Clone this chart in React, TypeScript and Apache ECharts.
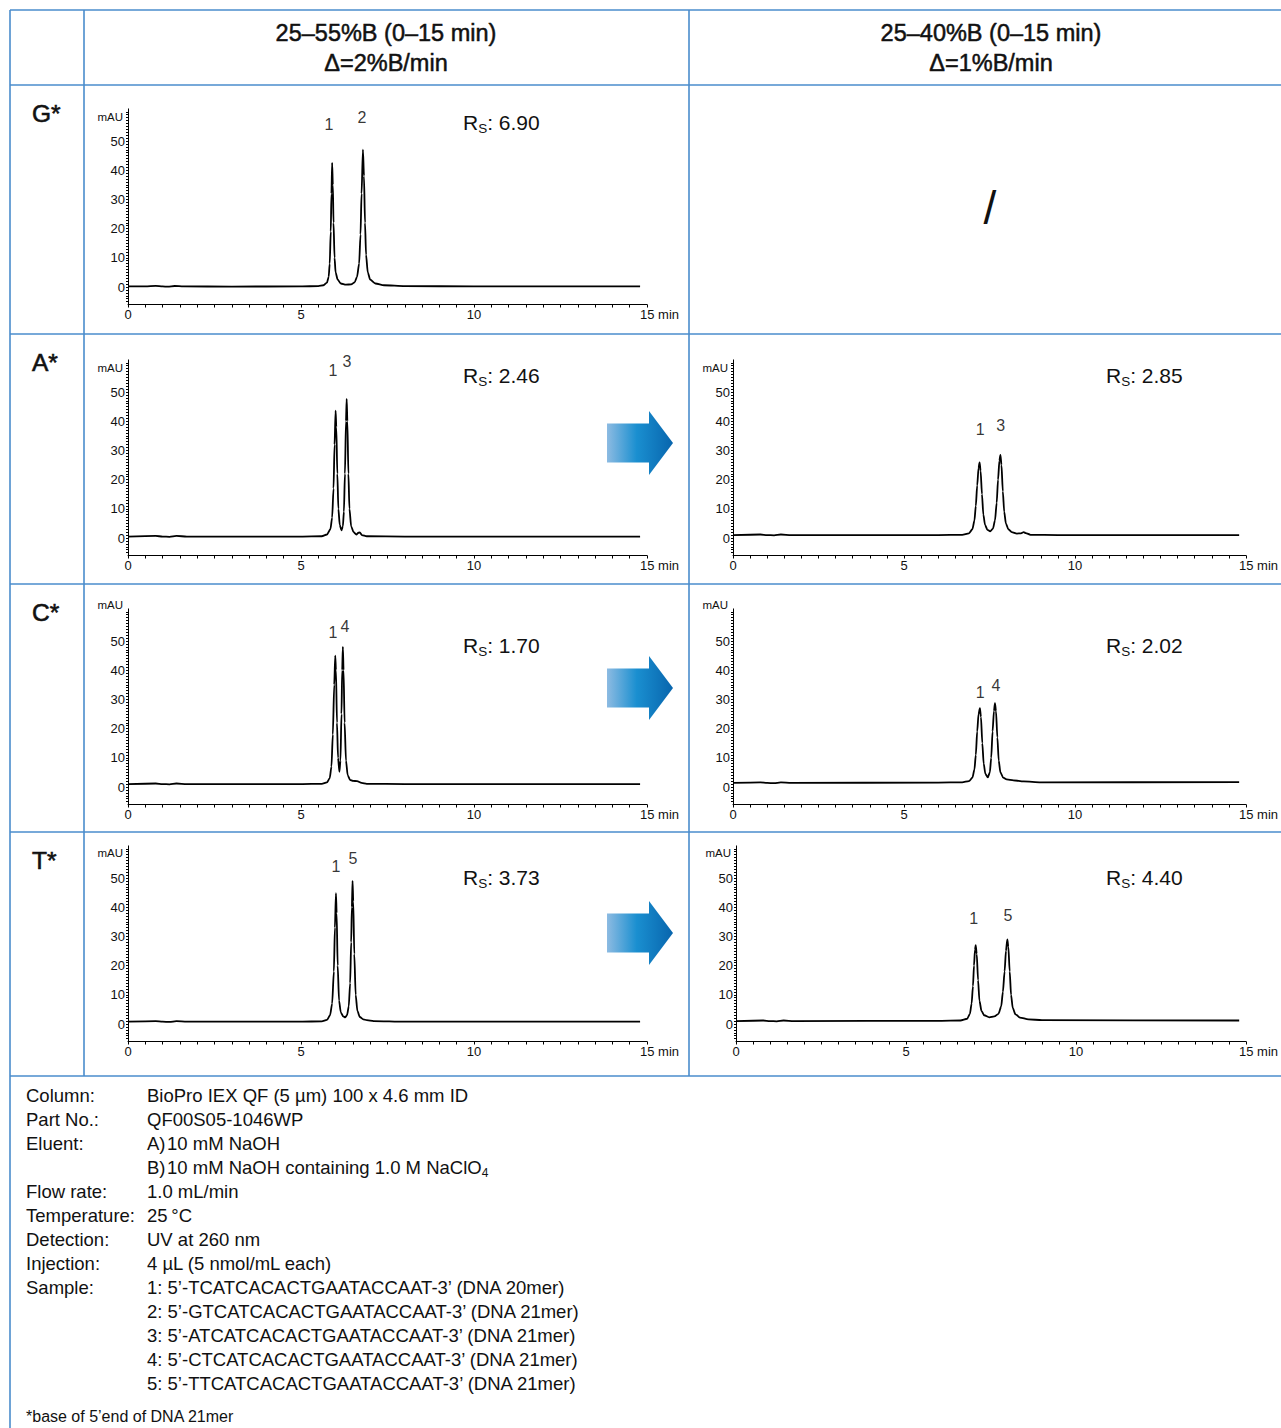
import React, { useEffect, useRef } from 'react';
import * as echarts from 'echarts';

const FONT = '"Liberation Sans", Arial, Helvetica, sans-serif';
const INK = '#111';
const BLUE = '#4a8ccc';

// ---------- data ----------
const columnHeaders = [
  ['25–55%B (0–15 min)', 'Δ=2%B/min'],
  ['25–40%B (0–15 min)', 'Δ=1%B/min'],
];
const rowLabels = ['G*', 'A*', 'C*', 'T*'];
const xTickLabels = [0, 5, 10, 15];
const yTickLabels = [0, 10, 20, 30, 40, 50];

// time (min), absorbance (mAU)
const traceGLeft = [
  [0, 0.2], [0.5, 0.2], [0.8, 0.4], [1.0, 0.2], [1.15, 0.1], [1.35, 0.35], [1.6, 0.2], [3, 0.15], [5.0, 0.2],
  [5.5, 0.3], [5.65, 0.6], [5.75, 1.5], [5.8, 3.5], [5.83, 8], [5.86, 19], [5.88, 32], [5.9, 42.5], [5.92, 35],
  [5.94, 22], [5.97, 10], [6.0, 5], [6.06, 2.5], [6.15, 1.2], [6.3, 0.8], [6.45, 0.9], [6.55, 1.6], [6.62, 3.5],
  [6.68, 8], [6.72, 18], [6.75, 32], [6.79, 47], [6.82, 38], [6.85, 22], [6.88, 11], [6.93, 5], [7.0, 2.5],
  [7.15, 1.2], [7.4, 0.6], [8, 0.3], [10, 0.2], [12, 0.2], [14.8, 0.2],
];
const traceALeft = [
  [0, 0.5], [0.8, 0.7], [1.0, 0.5], [1.2, 0.4], [1.4, 0.7], [1.7, 0.5], [5.0, 0.5], [5.6, 0.6], [5.75, 1.2],
  [5.85, 3], [5.9, 7], [5.94, 17], [5.97, 32], [6.0, 43.6], [6.02, 38], [6.05, 22], [6.08, 10], [6.12, 4.5],
  [6.17, 2.6], [6.21, 4], [6.24, 9], [6.27, 22], [6.3, 40], [6.32, 47.6], [6.34, 40], [6.37, 22], [6.4, 10],
  [6.45, 4], [6.52, 2], [6.6, 1.2], [6.66, 1.8], [6.7, 1.9], [6.76, 1.0], [6.9, 0.6], [8, 0.5], [14.8, 0.5],
];
const traceARight = [
  [0, 1.0], [0.8, 1.2], [1.0, 1.0], [1.2, 0.9], [1.4, 1.2], [1.7, 1.0], [6.0, 1.0], [6.7, 1.1], [6.9, 1.6],
  [7.0, 3], [7.06, 6], [7.1, 11], [7.14, 18], [7.18, 24], [7.21, 25.9], [7.24, 23], [7.28, 15], [7.32, 8],
  [7.37, 4.5], [7.44, 2.8], [7.52, 2.3], [7.6, 3.2], [7.66, 6], [7.71, 12], [7.75, 20], [7.79, 26.5], [7.82, 28.5],
  [7.85, 25], [7.89, 16], [7.93, 9], [7.98, 5], [8.05, 3], [8.15, 2], [8.3, 1.5], [8.42, 1.6], [8.5, 2.0],
  [8.56, 1.7], [8.7, 1.1], [9.5, 1.0], [14.8, 1.0],
];
const traceCLeft = [
  [0, 1.0], [0.8, 1.2], [1.0, 1.0], [1.2, 0.9], [1.4, 1.2], [1.7, 1.0], [5.0, 1.0], [5.6, 1.1], [5.75, 1.6],
  [5.83, 3], [5.88, 7], [5.92, 18], [5.96, 35], [5.99, 45], [6.01, 40], [6.04, 22], [6.07, 10], [6.11, 5.2],
  [6.14, 9], [6.17, 25], [6.19, 40], [6.21, 48], [6.23, 40], [6.26, 22], [6.3, 9], [6.35, 4], [6.42, 2.4],
  [6.5, 2.1], [6.62, 2.0], [6.75, 1.4], [6.9, 1.1], [8, 1.0], [14.8, 1.0],
];
const traceCRight = [
  [0, 1.4], [0.8, 1.6], [1.0, 1.4], [1.2, 1.3], [1.4, 1.6], [1.7, 1.4], [6.0, 1.5], [6.7, 1.6], [6.9, 2.0],
  [7.0, 3.2], [7.06, 6], [7.1, 11], [7.14, 19], [7.18, 25], [7.22, 27], [7.25, 24], [7.29, 15], [7.33, 8],
  [7.38, 4.5], [7.45, 3.3], [7.51, 5], [7.55, 10], [7.59, 19], [7.63, 26], [7.66, 28.7], [7.69, 26], [7.73, 17],
  [7.77, 9], [7.82, 5], [7.9, 3.2], [8.0, 2.6], [8.2, 2.3], [8.5, 1.9], [9, 1.6], [14.8, 1.7],
];
const traceTLeft = [
  [0, 0.8], [0.8, 1.0], [1.0, 0.8], [1.2, 0.7], [1.4, 1.0], [1.7, 0.8], [5.0, 0.8], [5.6, 0.9], [5.75, 1.4],
  [5.84, 3], [5.9, 7], [5.95, 18], [5.98, 33], [6.01, 44.8], [6.03, 38], [6.06, 20], [6.1, 8], [6.15, 4],
  [6.22, 2.6], [6.28, 2.3], [6.33, 3], [6.38, 6], [6.42, 14], [6.45, 28], [6.47, 40], [6.49, 49], [6.51, 42],
  [6.54, 24], [6.58, 10], [6.63, 4.5], [6.7, 2.4], [6.8, 1.6], [6.9, 1.3], [7.1, 1.0], [8, 0.8], [14.8, 0.8],
];
const traceTRight = [
  [0, 1.0], [0.8, 1.2], [1.0, 1.0], [1.2, 0.9], [1.4, 1.2], [1.7, 1.0], [6.0, 1.1], [6.6, 1.2], [6.8, 1.8],
  [6.88, 3.5], [6.93, 7], [6.97, 13], [7.0, 20], [7.03, 25.5], [7.05, 27], [7.08, 24], [7.12, 15], [7.16, 8],
  [7.22, 4.5], [7.3, 3], [7.45, 2.3], [7.6, 2.6], [7.72, 3.5], [7.8, 6], [7.85, 11], [7.9, 18], [7.94, 25],
  [7.98, 29], [8.01, 26.5], [8.05, 18], [8.09, 10], [8.14, 5.5], [8.22, 3.3], [8.35, 2.2], [8.6, 1.6], [9, 1.3],
  [14.8, 1.2],
];

// peak number labels: [time, mAU, label]
const peaksGLeft = [[5.81, 55.5, '1'], [6.76, 58.2, '2']];
const peaksALeft = [[5.92, 57.5, '1'], [6.33, 60.6, '3']];
const peaksARight = [[7.23, 37, '1'], [7.83, 38.4, '3']];
const peaksCLeft = [[5.92, 53, '1'], [6.27, 54.8, '4']];
const peaksCRight = [[7.23, 32.5, '1'], [7.69, 34.6, '4']];
const peaksTLeft = [[6.01, 53.8, '1'], [6.5, 56.8, '5']];
const peaksTRight = [[6.99, 36.3, '1'], [8.0, 37, '5']];

const rsValues = ['6.90', '2.46', '2.85', '1.70', '2.02', '3.73', '4.40'];

const footerLabels = ['Column:', 'Part No.:', 'Eluent:', '', 'Flow rate:', 'Temperature:', 'Detection:', 'Injection:', 'Sample:', '', '', '', ''];
const footerValues = [
  'BioPro IEX QF (5 µm) 100 x 4.6 mm ID',
  'QF00S05-1046WP',
  'A)\u200A10 mM NaOH',
  'B)\u200A10 mM NaOH containing 1.0 M NaClO{s|4}',
  '1.0 mL/min',
  '25\u2009°C',
  'UV at 260 nm',
  '4 µL (5 nmol/mL each)',
  '1: 5’-TCATCACACTGAATACCAAT-3’ (DNA 20mer)',
  '2: 5’-GTCATCACACTGAATACCAAT-3’ (DNA 21mer)',
  '3: 5’-ATCATCACACTGAATACCAAT-3’ (DNA 21mer)',
  '4: 5’-CTCATCACACTGAATACCAAT-3’ (DNA 21mer)',
  '5: 5’-TTCATCACACTGAATACCAAT-3’ (DNA 21mer)',
];
const footnote = '*base of 5’end of DNA 21mer';

// ---------- layout ----------
const PX_PER_MAU = 2.92;
const Y_MIN = -6;
const Y_MAX = 61;
const PLOT_H = (Y_MAX - Y_MIN) * PX_PER_MAU;

const panels = [
  { trace: traceGLeft, peaks: peaksGLeft, left: 128, width: 519, zero: 287, rsX: 463, rsY: 122, mauGap: -8 },
  { trace: traceALeft, peaks: peaksALeft, left: 128, width: 519, zero: 538, rsX: 463, rsY: 375, mauGap: -8 },
  { trace: traceARight, peaks: peaksARight, left: 733, width: 520, zero: 538, rsX: 1106, rsY: 375, mauGap: -8 },
  { trace: traceCLeft, peaks: peaksCLeft, left: 128, width: 519, zero: 787, rsX: 463, rsY: 645, mauGap: 4 },
  { trace: traceCRight, peaks: peaksCRight, left: 733, width: 520, zero: 787, rsX: 1106, rsY: 645, mauGap: 4 },
  { trace: traceTLeft, peaks: peaksTLeft, left: 128, width: 519, zero: 1024, rsX: 463, rsY: 877, mauGap: -7 },
  { trace: traceTRight, peaks: peaksTRight, left: 736, width: 520, zero: 1024, rsX: 1106, rsY: 877, mauGap: -7 },
];

const xMinorTicks = Array.from({ length: 31 }, (_, i) => i * 0.5);
const yMinorTicks = Array.from({ length: 66 }, (_, i) => i - 5);

function text(t: string, x: number, y: number, size: number, extra: any = {}) {
  return {
    type: 'text',
    x,
    y,
    silent: true,
    style: {
      text: t,
      fontSize: size,
      fontFamily: FONT,
      fill: INK,
      align: 'left',
      verticalAlign: 'middle',
      textAlign: 'left',
      textVerticalAlign: 'middle',
      ...extra,
    },
  };
}

function line(x1: number, y1: number, x2: number, y2: number) {
  return {
    type: 'line',
    silent: true,
    shape: { x1, y1, x2, y2 },
    style: { stroke: BLUE, lineWidth: 1.6 },
  };
}

function arrow(cy: number) {
  return {
    type: 'polygon',
    silent: true,
    shape: {
      points: [
        [607, cy - 19.5], [649, cy - 19.5], [649, cy - 32], [673, cy], [649, cy + 32], [649, cy + 19.5], [607, cy + 19.5],
      ],
    },
    style: {
      fill: {
        type: 'linear', x: 0, y: 0, x2: 1, y2: 0,
        colorStops: [
          { offset: 0, color: '#8dbbe2' },
          { offset: 0.45, color: '#1a8fd0' },
          { offset: 1, color: '#0865ad' },
        ],
      },
    },
  };
}

function buildOption() {
  const grids: any[] = [];
  const xAxes: any[] = [];
  const yAxes: any[] = [];
  const series: any[] = [];
  const graphics: any[] = [];

  panels.forEach((p, i) => {
    const top = p.zero - Y_MAX * PX_PER_MAU;
    grids.push({ left: p.left, top, width: p.width, height: PLOT_H });
    xAxes.push({
      gridIndex: i,
      type: 'value',
      min: 0,
      max: 15,
      axisLine: { show: true, onZero: false, lineStyle: { color: '#000', width: 1 } },
      axisTick: { show: true, customValues: xMinorTicks, length: 3, lineStyle: { color: '#000', width: 1 } },
      axisLabel: {
        customValues: xTickLabels,
        margin: 3,
        fontSize: 13,
        fontFamily: FONT,
        color: INK,
        formatter: (v: number) => (v === 15 ? '{pad|}15 min' : String(v)),
        rich: { pad: { width: 25 } },
      },
      splitLine: { show: false },
    });
    yAxes.push({
      gridIndex: i,
      type: 'value',
      min: Y_MIN,
      max: Y_MAX,
      name: 'mAU',
      nameLocation: 'end',
      nameGap: p.mauGap,
      nameTextStyle: { fontSize: 11.5, fontFamily: FONT, color: INK, align: 'right', verticalAlign: 'middle', padding: [0, 5, 0, 0] },
      axisLine: { show: true, onZero: false, lineStyle: { color: '#000', width: 1 } },
      axisTick: { show: true, customValues: yMinorTicks, length: 2, lineStyle: { color: '#000', width: 1 } },
      axisLabel: { customValues: yTickLabels, margin: 3, fontSize: 13, fontFamily: FONT, color: INK },
      splitLine: { show: false },
    });
    series.push({
      type: 'line',
      xAxisIndex: i,
      yAxisIndex: i,
      data: p.trace,
      showSymbol: false,
      symbol: 'none',
      smooth: 0.25,
      smoothMonotone: 'x',
      lineStyle: { color: '#000', width: 1.8 },
      silent: true,
    });
    series.push({
      type: 'scatter',
      xAxisIndex: i,
      yAxisIndex: i,
      symbolSize: 1,
      itemStyle: { color: 'rgba(0,0,0,0)' },
      data: p.peaks.map((pk: any) => ({ value: [pk[0], pk[1]], name: pk[2] })),
      label: { show: true, position: 'inside', formatter: '{b}', fontSize: 16, fontFamily: FONT, color: '#000' },
      silent: true,
    });
    graphics.push(
      text('R{s|S}: ' + rsValues[i], p.rsX, p.rsY, 21, {
        rich: { s: { fontSize: 13.5, fontFamily: FONT, fill: INK, padding: [12, 0, 0, 0] } },
      })
    );
  });

  // table frame
  graphics.push(line(10, 10, 1281, 10));
  [85, 334, 584, 832, 1076].forEach((y) => graphics.push(line(10, y, 1281, y)));
  graphics.push(line(10, 10, 10, 1428));
  graphics.push(line(84, 10, 84, 1076));
  graphics.push(line(689, 10, 689, 1076));

  // headers
  const headerStyle = { align: 'center', textAlign: 'center', stroke: '#111', lineWidth: 0.5 };
  columnHeaders.forEach((h, c) => {
    const cx = c === 0 ? 386 : 991;
    graphics.push(text(h[0], cx, 33, 23.5, headerStyle));
    graphics.push(text(h[1], cx, 63, 23.5, headerStyle));
  });
  [113, 362, 612, 860].forEach((y, r) => {
    graphics.push(text(rowLabels[r], 32, y, 24.5, { stroke: '#111', lineWidth: 0.6 }));
  });
  graphics.push(text('/', 990, 208, 46, { align: 'center', textAlign: 'center' }));

  // arrows
  [443, 688, 933].forEach((cy) => graphics.push(arrow(cy)));

  // footer
  footerValues.forEach((v, k) => {
    const y = 1095 + k * 24;
    if (footerLabels[k]) graphics.push(text(footerLabels[k], 26, y, 18.5));
    graphics.push(
      text(v, 147, y, 18.5, { rich: { s: { fontSize: 12, fontFamily: FONT, fill: INK, padding: [12, 0, 0, 0] } } })
    );
  });
  graphics.push(text(footnote, 26, 1416, 16));

  return {
    animation: false,
    backgroundColor: '#fff',
    grid: grids,
    xAxis: xAxes,
    yAxis: yAxes,
    series,
    graphic: { elements: graphics },
  };
}

export default function App() {
  const ref = useRef<HTMLDivElement>(null);
  useEffect(() => {
    if (!ref.current) return;
    const chart = echarts.init(ref.current, null, { renderer: 'svg' });
    chart.setOption(buildOption() as any);
    return () => chart.dispose();
  }, []);
  return (
    <div
      ref={ref}
      style={{ position: 'absolute', left: 0, top: 0, width: 1281, height: 1428, background: '#fff' }}
    />
  );
}
